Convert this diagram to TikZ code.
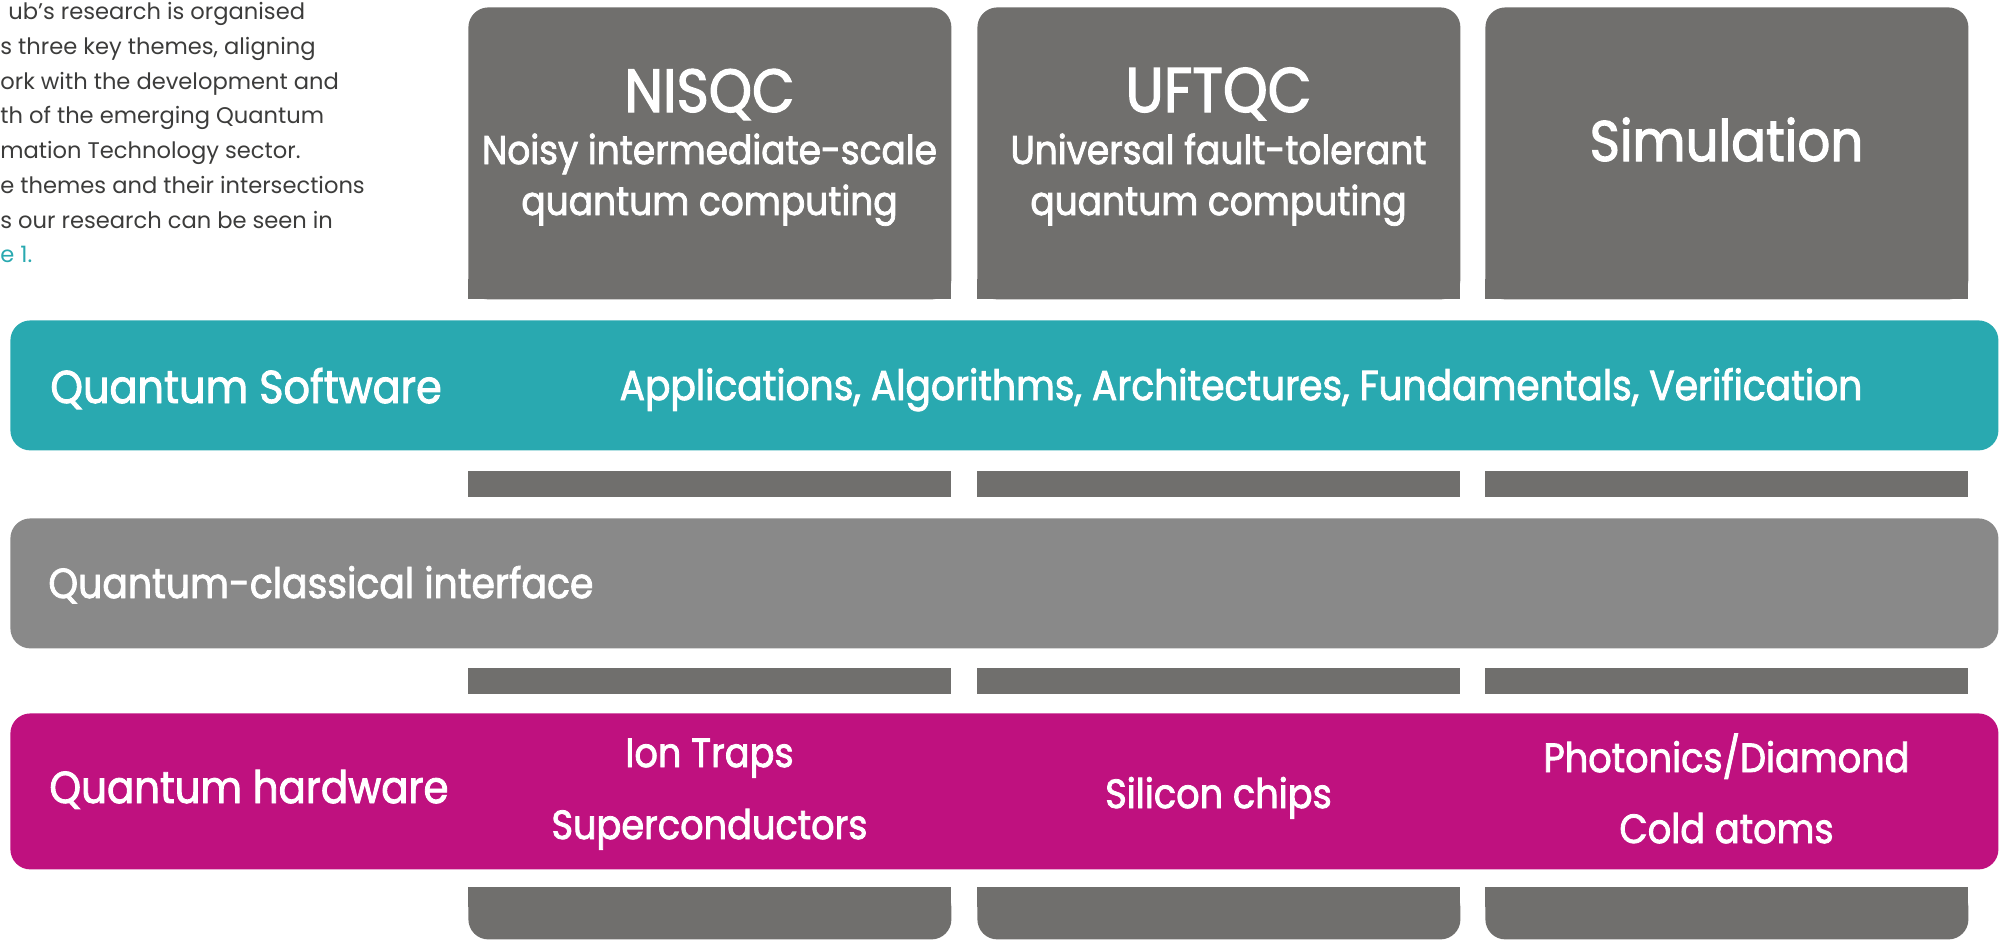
\documentclass[tikz,border=0pt]{standalone}
\usepackage{fontspec}
\setmainfont{Poppins}
\newfontfamily\labelfont{Poppins}[FakeBold=2, FakeStretch=0.9]
\definecolor{colgray}{RGB}{112,111,109}
\definecolor{qteal}{RGB}{41,169,176}
\definecolor{qgray}{RGB}{137,137,137}
\definecolor{qmagenta}{RGB}{191,17,127}
\definecolor{bodytext}{RGB}{60,60,59}
\newcommand{\fsz}[1]{\fontsize{#1}{#1}\selectfont}
\tikzset{
  column/.style={fill=colgray, draw=none, inner sep=0pt, rounded corners=10pt,
    minimum width=241.5pt, minimum height=146pt},
  band/.style={draw=none, inner sep=0pt, rounded corners=10pt,
    minimum width=994pt, minimum height=65pt},
  link/.style={fill=colgray, draw=none, inner sep=0pt,
    minimum width=241.5pt, minimum height=13pt},
  foot/.style={fill=colgray, draw=none, inner sep=0pt, rounded corners=10pt,
    minimum width=241.5pt, minimum height=26pt},
  title/.style={text=white, inner sep=0pt, anchor=base, font=\labelfont\fsz{30.5}},
  subtitle/.style={text=white, inner sep=0pt, anchor=base, font=\labelfont\fsz{20}},
  bandlabel/.style={text=white, inner sep=0pt, anchor=base west, font=\labelfont\fsz{22}},
  item/.style={text=white, inner sep=0pt, anchor=base, font=\labelfont\fsz{20.4}},
  para/.style={text=bodytext, inner sep=0pt, anchor=base west, font=\fsz{11.3}},
}
\begin{document}
\begin{tikzpicture}[x=0.5pt,y=-0.5pt]
\useasboundingbox (0,0) rectangle (2004,939);
\clip (0,0) rectangle (2004,939);

% intro paragraph, running off the left edge
\node[para] (p1) at (8,19) {ub’s research is organised};
\node[para] (p2) at (0,54) {s three key themes, aligning};
\node[para] (p3) at (0,89) {ork with the development and};
\node[para] (p4) at (0,123) {th of the emerging Quantum};
\node[para] (p5) at (0,158) {mation Technology sector.};
\node[para] (p6) at (0,193) {e themes and their intersections};
\node[para] (p7) at (0,228) {s our research can be seen in};
\node[para, text=qteal] (p8) at (0,262) {e 1.};

% three theme columns: rounded top, square bottom
\foreach \n/\x in {c1/468, c2/977, c3/1485}{
  \node[column, anchor=north west] (\n) at (\x,7) {};
  \fill[colgray] (\x,279) rectangle ++(483,20);
  \node[link, anchor=north west] (\n-a) at (\x,471) {};
  \node[link, anchor=north west] (\n-b) at (\x,668) {};
  \node[foot, anchor=north west] (\n-f) at (\x,887) {};
  \fill[colgray] (\x,887) rectangle ++(483,20);
}

% horizontal layers
\node[band, fill=qteal, anchor=north west] (sw) at (10,320) {};
\node[band, fill=qgray, anchor=north west] (qci) at (10,518) {};
\node[band, fill=qmagenta, anchor=north west, minimum height=78pt] (hw) at (10,713) {};

% column titles
\node[title] (t1) at (709.5,112) {NISQC};
\node[subtitle] (s1a) at (709.5,164) {Noisy intermediate-scale};
\node[subtitle] (s1b) at (709.5,215) {quantum computing};
\node[title, font=\labelfont\fsz{31.5}] (t2) at (1218.5,112) {UFTQC};
\node[subtitle] (s2a) at (1218.5,164) {Universal fault-tolerant};
\node[subtitle] (s2b) at (1218.5,215) {quantum computing};
\node[title, font=\labelfont\fsz{28.6}] (t3) at (1726.5,161) {Simulation};

% layer labels
\node[bandlabel, font=\labelfont\fsz{23}] (swl) at (50,403) {Quantum Software};
\node[item, font=\labelfont\fsz{20.9}] (swi) at (1241,400) {Applications, Algorithms, Architectures, Fundamentals, Verification};
\node[bandlabel, font=\labelfont\fsz{21}] (qcil) at (48,598) {Quantum-classical interface};
\node[bandlabel, font=\labelfont\fsz{22.4}] (hwl) at (49,803) {Quantum hardware};
\node[item] (h1) at (709.5,767) {Ion Traps};
\node[item] (h2) at (709.5,839) {Superconductors};
\node[item] (h3) at (1218.5,808) {Silicon chips};
\node[item] (h4) at (1726.5,772) {Photonics/Diamond};
\node[item] (h5) at (1726.5,843) {Cold atoms};
\end{tikzpicture}
\end{document}
